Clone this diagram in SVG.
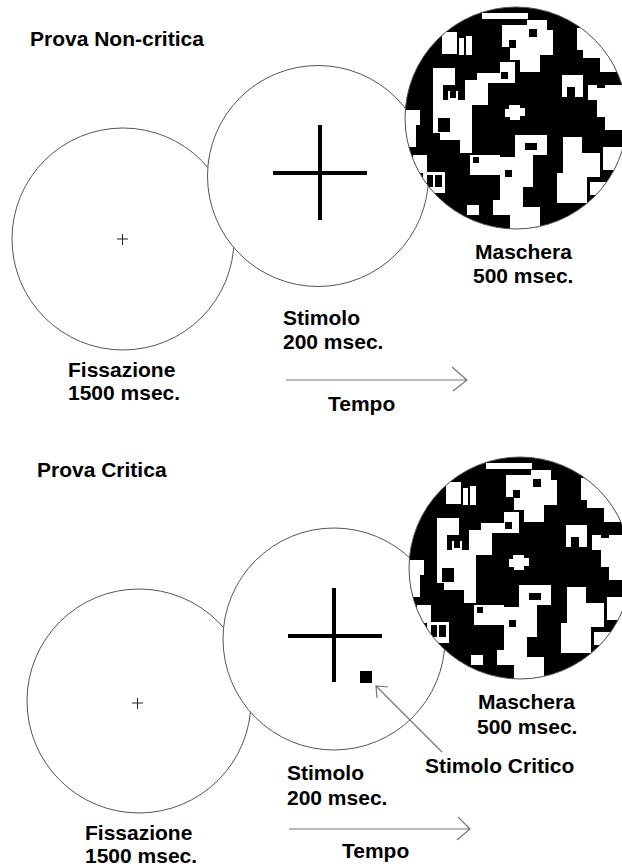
<svg xmlns="http://www.w3.org/2000/svg" xmlns:xlink="http://www.w3.org/1999/xlink" width="622" height="867" viewBox="0 0 622 867">
<style>
.lbl{font-family:"Liberation Sans",Arial,sans-serif;font-weight:bold;font-size:21px;fill:#000}
.ring{fill:#fff;stroke:#555;stroke-width:1}
.mring{fill:none;stroke:#555;stroke-width:1}
.fc{stroke:#222;stroke-width:1;fill:none}
.bc{stroke:#000;stroke-width:4;fill:none}
.arr{fill:none;stroke:#777;stroke-width:1.2}
.w{fill:#fff}
.b{fill:#000}
</style>
<defs>
<clipPath id="mclip" clipPathUnits="userSpaceOnUse"><circle cx="516" cy="118" r="111"/></clipPath>
<g id="pat">
<rect class="b" x="400" y="0" width="230" height="240"/>
<rect class="w" x="482" y="13" width="46" height="6"/>
<polygon class="w" points="502,25 527,25 527,20 547,20 547,30 553,30 553,55 540,55 540,72 520,72 520,60 510,60 510,47 502,47"/>
<rect class="b" x="529" y="29" width="8" height="8"/>
<rect class="b" x="509" y="40" width="7" height="8"/>
<polygon class="w" points="577,28 630,28 630,72 600,72 600,58 583,58 583,50 577,50"/>
<rect class="w" x="442" y="32" width="15" height="22"/>
<rect class="w" x="459" y="38" width="5" height="17"/>
<rect class="w" x="466" y="36" width="6" height="19"/>
<rect class="w" x="433" y="68" width="22" height="17"/>
<rect class="w" x="433" y="85" width="10" height="15"/>
<polyline points="449,91 449,99 457,99 457,91" fill="none" stroke="#fff" stroke-width="2"/>
<rect class="w" x="465" y="80" width="23" height="25"/>
<rect class="w" x="477" y="73" width="23" height="10"/>
<rect class="w" x="500" y="62" width="15" height="21"/>
<rect class="b" x="501" y="72" width="7" height="7"/>
<polygon class="w" points="433,100 472,100 472,153 460,153 460,140 440,140 440,133 433,133"/>
<rect class="b" x="438" y="118" width="12" height="14"/>
<polygon class="w" points="400,110 420,110 420,125 416,125 416,147 400,147"/>
<polygon class="w" points="509,105 520,105 520,108 525,108 525,116 520,116 520,120 510,120 510,117 505,117 505,109 509,109"/>
<rect class="w" x="562" y="75" width="21" height="22"/>
<rect class="b" x="567" y="87" width="8" height="10"/>
<polygon class="w" points="588,85 597,85 597,88 605,88 605,85 630,85 630,130 605,130 605,117 597,117 597,100 588,100"/>
<polygon class="w" points="515,135 547,135 547,155 533,155 533,187 523,187 523,207 500,207 500,157 515,157"/>
<rect class="b" x="525" y="143" width="12" height="7"/>
<rect class="b" x="505" y="170" width="7" height="7"/>
<rect class="w" x="470" y="155" width="30" height="20"/>
<rect class="b" x="473" y="157" width="6" height="6"/>
<rect class="w" x="413" y="155" width="14" height="18"/>
<rect class="w" x="423" y="172" width="22" height="21"/>
<rect class="b" x="427" y="175" width="6" height="12"/>
<rect class="b" x="435" y="175" width="7" height="12"/>
<polygon class="w" points="563,137 582,137 582,153 600,153 600,177 587,177 587,203 557,203 557,173 563,173"/>
<rect class="w" x="603" y="147" width="25" height="23"/>
<rect class="w" x="590" y="182" width="20" height="13"/>
<polygon class="w" points="493,200 512,200 512,207 540,207 540,232 510,232 510,215 493,215"/>
<rect class="w" x="467" y="205" width="12" height="10"/>
</g>
</defs>

<g id="title-noncritica"><text class="lbl" x="30" y="46">Prova Non-critica</text></g>

<g id="fissazione-1">
<circle class="ring" cx="123" cy="239" r="111"/>
<path class="fc" d="M117,239H128M122.5,234V245"/>
</g>
<g id="stimolo-1">
<circle class="ring" cx="318" cy="176" r="110.5"/>
<path class="bc" d="M273,173H367M320,125V220"/>
</g>
<g id="maschera-1">
<g clip-path="url(#mclip)"><use xlink:href="#pat"/></g>
<circle class="mring" cx="516" cy="118" r="111"/>
</g>

<g id="label-fissazione-1"><text class="lbl" x="68" y="377">Fissazione</text><text class="lbl" x="68" y="400">1500 msec.</text></g>
<g id="label-stimolo-1"><text class="lbl" x="283" y="325">Stimolo</text><text class="lbl" x="283" y="349">200 msec.</text></g>
<g id="label-maschera-1"><text class="lbl" x="475" y="259">Maschera</text><text class="lbl" x="473" y="283">500 msec.</text></g>
<g id="label-tempo-1"><text class="lbl" x="328" y="411">Tempo</text></g>

<g id="title-critica"><text class="lbl" x="37" y="477">Prova Critica</text></g>

<g id="fissazione-2">
<circle class="ring" cx="139" cy="701" r="112"/>
<path class="fc" d="M132,703H143M137.5,698V709"/>
</g>
<g id="stimolo-2">
<circle class="ring" cx="334" cy="639" r="111"/>
<path class="bc" d="M288,636H382M334,588V682"/>
<rect x="360" y="671" width="12" height="12" fill="#000"/>
</g>
<g id="maschera-2" transform="translate(4,450)">
<g clip-path="url(#mclip)"><use xlink:href="#pat"/></g>
<circle class="mring" cx="516" cy="118" r="111"/>
</g>

<g id="label-fissazione-2"><text class="lbl" x="85" y="840">Fissazione</text><text class="lbl" x="85" y="863">1500 msec.</text></g>
<g id="label-stimolo-2"><text class="lbl" x="287" y="780">Stimolo</text><text class="lbl" x="287" y="805">200 msec.</text></g>
<g id="label-maschera-2"><text class="lbl" x="478" y="709">Maschera</text><text class="lbl" x="477" y="734">500 msec.</text></g>
<g id="label-critico"><text class="lbl" x="425" y="773">Stimolo Critico</text></g>
<g id="label-tempo-2"><text class="lbl" x="342" y="858">Tempo</text></g>

<g id="connectors">
<path class="arr" d="M286,380H467M452,367L467,380L453,391"/>
<path class="arr" d="M289,829H470M458,817L470,829L457,840"/>
<path class="arr" d="M442,752L376,686M388,687L376,686L377,698"/>
</g>
</svg>
